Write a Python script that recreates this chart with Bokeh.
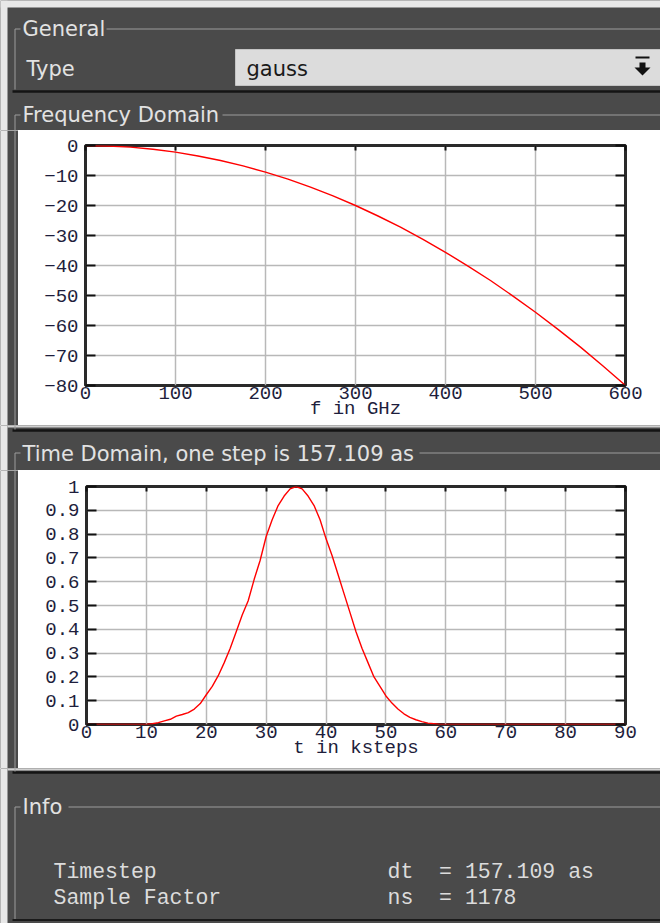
from bokeh.plotting import figure
from bokeh.layouts import column, row
from bokeh.models import Range1d, LinearAxis, FixedTicker
from bokeh.core.properties import value
from bokeh.embed import file_html
from bokeh.resources import INLINE

# ---------------- data ----------------
freq_ghz = [0, 25, 50, 75, 100, 125, 150, 175, 200, 225, 250, 275, 300,
            325, 350, 375, 400, 425, 450, 475, 500, 525, 550, 575, 600]
freq_db = [0.0, -0.15, -0.55, -1.25, -2.2, -3.5, -5.0, -6.8, -8.9, -11.2,
           -13.9, -16.8, -20.0, -23.5, -27.2, -31.3, -35.6, -40.2, -45.0,
           -50.2, -55.6, -61.3, -67.2, -73.5, -80.0]

time_ksteps = [0, 10, 11, 12, 13, 14, 15, 16, 17, 18, 19, 20, 21, 22, 23, 24,
               25, 26, 27, 28, 29, 30, 31, 32, 33, 34, 35, 36, 37, 38, 39, 40,
               41, 42, 43, 44, 45, 46, 47, 48, 49, 50, 51, 52, 53, 54, 55, 56,
               57, 58, 59, 90]
time_amp = [0.0, 0.0, 0.003, 0.008, 0.015, 0.022, 0.035, 0.042, 0.05, 0.065,
            0.088, 0.125, 0.16, 0.205, 0.26, 0.32, 0.39, 0.46, 0.52, 0.61,
            0.69, 0.79, 0.86, 0.92, 0.96, 0.99, 1.0, 0.99, 0.96, 0.92, 0.86,
            0.78, 0.71, 0.63, 0.55, 0.47, 0.39, 0.32, 0.26, 0.20, 0.16, 0.12,
            0.09, 0.065, 0.045, 0.03, 0.02, 0.012, 0.006, 0.003, 0.0, 0.0]

freq_xticks = [0, 100, 200, 300, 400, 500, 600]
freq_xtick_labels = ["0", "100", "200", "300", "400", "500", "600"]
freq_yticks = [0, -10, -20, -30, -40, -50, -60, -70, -80]
freq_ytick_labels = ["0", "\u221210", "\u221220", "\u221230", "\u221240",
                     "\u221250", "\u221260", "\u221270", "\u221280"]
time_xticks = [0, 10, 20, 30, 40, 50, 60, 70, 80, 90]
time_xtick_labels = ["0", "10", "20", "30", "40", "50", "60", "70", "80", "90"]
time_yticks = [0, 0.1, 0.2, 0.3, 0.4, 0.5, 0.6, 0.7, 0.8, 0.9, 1]
time_ytick_labels = ["0", "0.1", "0.2", "0.3", "0.4", "0.5", "0.6", "0.7",
                     "0.8", "0.9", "1"]

type_label = "Type"
type_value = "gauss"
freq_title = "Frequency Domain"
time_title = "Time Domain, one step is 157.109 as"
freq_xlabel = "f in GHz"
time_xlabel = "t in ksteps"
info_names = ["Timestep", "Sample Factor"]
info_values = ["dt \u00a0= 157.109 as", "ns \u00a0= 1178"]

# ---------------- style ----------------
BG = "#4a4a4a"
EDGE = "#e8e8e8"
GROUP = "#9c9c9c"
TXT = "#e2e2e2"
UI_FONT = value("DejaVu Sans")
UI_SIZE = "21px"
MONO = "Liberation Mono"
TICK_COL = "#1e1e3c"


def chrome(w, h):
    p = figure(width=w, height=h, x_range=Range1d(0, w), y_range=Range1d(h, 0),
               toolbar_location=None, output_backend="svg",
               x_axis_type=None, y_axis_type=None,
               min_border_left=0, min_border_right=0,
               min_border_top=0, min_border_bottom=0)
    p.grid.visible = False
    p.outline_line_color = None
    p.background_fill_color = BG
    p.border_fill_color = BG
    p.quad(left=[0], right=[7], top=[0], bottom=[h], fill_color=EDGE, line_color=None)
    return p


def ui_text(p, x, y, t, color=TXT, size=UI_SIZE, font=UI_FONT):
    p.text(x=[x], y=[y], text=[t], text_font=font, text_font_size=size,
           text_color=color, text_baseline="middle", text_align="left")


def hline(p, x0, x1, y, color=GROUP, w=1):
    p.segment(x0=[x0], y0=[y], x1=[x1], y1=[y], line_color=color, line_width=w)


def vline(p, x, y0, y1, color=GROUP, w=1):
    p.segment(x0=[x], y0=[y0], x1=[x], y1=[y1], line_color=color, line_width=w)


# ---- top chrome (page y 0..130)
top = chrome(660, 130)
top.quad(left=[0], right=[660], top=[0], bottom=[7], fill_color=EDGE, line_color=None)
hline(top, 14.5, 20, 28.5)
hline(top, 106, 660, 28.5)
vline(top, 14.5, 28.5, 89)
ui_text(top, 22, 28, "General")
ui_text(top, 26, 68, type_label)
top.quad(left=[235], right=[660], top=[49], bottom=[85], fill_color="#dcdcdc",
         line_color="#c4c4c4")
ui_text(top, 246, 68, type_value, color="#1a1a1a")
top.quad(left=[635], right=[649], top=[56], bottom=[58], fill_color="#111111", line_color=None)
top.quad(left=[639], right=[645], top=[62], bottom=[68], fill_color="#111111", line_color=None)
top.patch(x=[634, 650, 642], y=[67, 67, 75], fill_color="#111111", line_color=None)
hline(top, 12, 660, 91, color="#141414", w=2.5)
hline(top, 14.5, 20, 114.5)
hline(top, 222, 660, 114.5)
vline(top, 14.5, 114.5, 130)
ui_text(top, 22, 114, freq_title)


def strip(h):
    s = chrome(18, h)
    vline(s, 14.5, 0, h)
    return column(s)


def make_plot(w, h, xr, yr, xt, xl, yt, yl, xlabel, mb):
    p = figure(width=w, height=h, x_range=Range1d(*xr), y_range=Range1d(*yr),
               toolbar_location=None, output_backend="svg",
               min_border_left=mb[0], min_border_right=mb[1],
               min_border_top=mb[2], min_border_bottom=mb[3])
    p.background_fill_color = "white"
    p.border_fill_color = "white"
    p.outline_line_color = "#2a2a2a"
    p.outline_line_width = 3

    xa = p.below[0]
    ya = p.left[0]
    xa.ticker = FixedTicker(ticks=xt)
    ya.ticker = FixedTicker(ticks=yt)
    xa.major_label_overrides = dict(zip(xt, xl))
    ya.major_label_overrides = dict(zip(yt, yl))
    for ax in (xa, ya):
        ax.axis_line_color = None
        ax.minor_tick_line_color = None
        ax.major_label_text_font = MONO
        ax.major_label_text_font_size = "19px"
        ax.major_label_text_color = TICK_COL
        ax.major_tick_out = 0
        ax.major_tick_line_color = "#111111"
        ax.major_tick_line_width = 2
    ya.major_tick_in = 10
    ya.major_label_standoff = 7
    xa.major_tick_in = 0
    xa.major_label_standoff = 1
    xa.axis_label = xlabel
    xa.axis_label_text_font = MONO
    xa.axis_label_text_font_size = "19px"
    xa.axis_label_text_font_style = "normal"
    xa.axis_label_text_color = TICK_COL
    xa.axis_label_standoff = -4

    # tick marks only (no labels) on the top and right edges
    ta = LinearAxis(ticker=FixedTicker(ticks=xt), major_tick_in=5, major_tick_out=0,
                    major_label_text_font_size="0px", major_label_text_color=None,
                    axis_line_color=None,
                    minor_tick_line_color=None, major_tick_line_color="#111111",
                    major_tick_line_width=2, major_label_standoff=0)
    ra = LinearAxis(ticker=FixedTicker(ticks=yt), major_tick_in=10, major_tick_out=0,
                    major_label_text_font_size="0px", major_label_text_color=None,
                    axis_line_color=None,
                    minor_tick_line_color=None, major_tick_line_color="#111111",
                    major_tick_line_width=2, major_label_standoff=0)
    p.add_layout(ta, "above")
    p.add_layout(ra, "right")

    p.grid.grid_line_color = "#b8b8b8"
    p.grid.grid_line_width = 1.5
    return p


freq = make_plot(642, 295, (0, 600), (-80, 0), freq_xticks, freq_xtick_labels,
                 freq_yticks, freq_ytick_labels, freq_xlabel, (67, 35, 15, 40))
freq.line(freq_ghz, freq_db, line_color="#ff0000", line_width=1.4)

# ---- middle chrome (page y 425..470)
mid = chrome(660, 45)
hline(mid, 7, 660, 1, color="#d0d0d0", w=2)
hline(mid, 12, 660, 5, color="#141414", w=2.5)
vline(mid, 14.5, 0, 4)
hline(mid, 14.5, 20, 27.5)
hline(mid, 419, 660, 27.5)
vline(mid, 14.5, 27.5, 45)
ui_text(mid, 22, 28, time_title)

time = make_plot(642, 298, (0, 90), (0, 1), time_xticks, time_xtick_labels,
                 time_yticks, time_ytick_labels, time_xlabel, (68, 35, 16, 44))
time.line(time_ksteps, time_amp, line_color="#ff0000", line_width=1.4)

# ---- bottom chrome (page y 768..923)
bot = chrome(660, 155)
hline(bot, 7, 660, 1, color="#d0d0d0", w=2)
hline(bot, 12, 660, 4, color="#141414", w=2.5)
vline(bot, 14.5, 0, 3)
hline(bot, 14.5, 20, 38.5)
hline(bot, 68, 660, 38.5)
vline(bot, 14.5, 38.5, 151)
hline(bot, 12, 660, 151.5, color="#1a1a1a", w=2)
ui_text(bot, 22, 38, "Info")
for i, (n, v) in enumerate(zip(info_names, info_values)):
    ui_text(bot, 53, 103 + 26 * i, n, color="#dcdcdc", size="21.5px", font=value(MONO))
    ui_text(bot, 387, 103 + 26 * i, v, color="#dcdcdc", size="21.5px", font=value(MONO))

layout = column(top, row(strip(295), freq), mid, row(strip(298), time), bot)

open("out.html", "w").write(file_html(layout, INLINE))
